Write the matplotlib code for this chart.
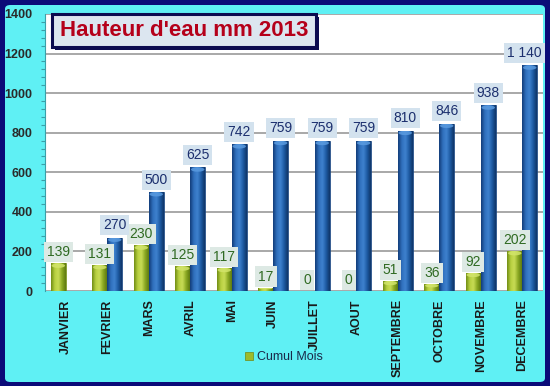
import numpy as np
import matplotlib
matplotlib.use("Agg")
import matplotlib.pyplot as plt
from matplotlib.patches import FancyBboxPatch, Rectangle, Ellipse
from matplotlib.colors import LinearSegmentedColormap

months = ["JANVIER", "FEVRIER", "MARS", "AVRIL", "MAI", "JUIN", "JUILLET",
          "AOUT", "SEPTEMBRE", "OCTOBRE", "NOVEMBRE", "DECEMBRE"]
cumul_mois = [139, 131, 230, 125, 117, 17, 0, 0, 51, 36, 92, 202]
cumul_total = [np.nan, 270, 500, 625, 742, 759, 759, 759, 810, 846, 938, 1140]
blue_labels = ["", "270", "500", "625", "742", "759", "759", "759", "810", "846", "938", "1 140"]
yticks = [0, 200, 400, 600, 800, 1000, 1200, 1400]

plt.rcParams['font.family'] = ['Liberation Sans', 'DejaVu Sans']

W, H = 550, 386
fig = plt.figure(figsize=(W / 100, H / 100), dpi=100)
fig.patch.set_facecolor('#0b0b78')
# cyan panel
fig.patches.append(FancyBboxPatch((5 / W, 4 / H), 540 / W, 377 / H,
                                  boxstyle="round,pad=0,rounding_size=0.01",
                                  transform=fig.transFigure, facecolor='#5ff0f4',
                                  edgecolor='none', zorder=-5))

ax = fig.add_axes([45 / W, 1 - 291 / H, 498 / W, 277 / H])
ax.set_zorder(1)
ax.set_facecolor('white')
x = np.arange(len(months))
w = 0.36
green = ax.bar(x - w / 2, cumul_mois, width=w, color='#9dbb2a', edgecolor='#6f8a16',
               linewidth=0.5, zorder=3, label='Cumul Mois')
blue = ax.bar(x + w / 2, cumul_total, width=w, color='#1f5fa6', edgecolor='#163f78',
              linewidth=0.5, zorder=3)

ax.set_xlim(-0.5, len(months) - 0.5)
ax.set_ylim(0, 1400)

# cylinder-like shading
grad = np.linspace(0, 1, 64).reshape(1, -1)
cm_g = LinearSegmentedColormap.from_list('g', ['#6f8c14', '#b8d040', '#c8dc55', '#8aa822', '#5e7a10'])
cm_b = LinearSegmentedColormap.from_list('b', ['#123c78', '#2f6fbc', '#3f82cf', '#1d5aa2', '#0f3467'])
caps = {'g': '#d2e46a', 'b': '#5a9be0'}
for bars, cm, cap in ((green, cm_g, caps['g']), (blue, cm_b, caps['b'])):
    for r in bars:
        hgt = r.get_height()
        if not np.isfinite(hgt) or hgt <= 0:
            continue
        x0, wd = r.get_x(), r.get_width()
        im = ax.imshow(grad, cmap=cm, aspect='auto', extent=(x0, x0 + wd, 0, hgt),
                       zorder=3.5, interpolation='bicubic')
        im.set_clip_path(r)
        ch = min(22, hgt * 0.5)
        e = Ellipse((x0 + wd / 2, hgt - ch / 2), wd * 0.9, ch, facecolor=cap,
                    edgecolor='none', alpha=0.85, zorder=3.7)
        ax.add_patch(e)
        e.set_clip_path(r)
ax.set_xlim(-0.5, len(months) - 0.5)
ax.set_ylim(0, 1400)

ax.set_yticks(yticks)
ax.set_yticklabels([str(v) for v in yticks], fontsize=9, fontweight='bold', color='#2a2a2a')
ax.set_xticks(x)
ax.set_xticklabels(months, rotation=90, fontsize=9, fontweight='bold', color='#1a1a1a')
ax.tick_params(axis='x', length=0, pad=6)
ax.tick_params(axis='y', length=0, pad=9)
ax.yaxis.set_minor_locator(matplotlib.ticker.MultipleLocator(40))
ax.tick_params(axis='y', which='minor', length=3, color='#3aa0a8', width=0.8)
ax.grid(axis='y', color='#9a9a9a', linewidth=1.2, zorder=1)
ax.set_axisbelow(True)
for s in ['top', 'right', 'bottom']:
    ax.spines[s].set_visible(False)
ax.spines['left'].set_color('#3aa0a8')
ax.spines['left'].set_linewidth(0.8)

for i, v in enumerate(cumul_mois):
    ax.annotate(str(v), (x[i] - w / 2, v), xytext=(0, 8), textcoords='offset points',
                ha='center', va='center', fontsize=10, color='#2f6a22', zorder=5,
                bbox=dict(boxstyle='square,pad=0.22', facecolor='#dde9e4', edgecolor='none'))
n = len(months)
for i, v in enumerate(cumul_total):
    if np.isnan(v):
        continue
    dx = -4 if i == n - 1 else 0  # keep last label inside the plot area
    ax.annotate(blue_labels[i], (x[i] + w / 2, v), xytext=(dx, 9), textcoords='offset points',
                ha='center', va='center', fontsize=10, color='#1c2f6e', zorder=5,
                bbox=dict(boxstyle='square,pad=0.22', facecolor='#d3e2ee', edgecolor='none'))

# title box
fig.patches.append(Rectangle((55 / W, 1 - 50 / H), 264 / W, 33 / H, transform=fig.transFigure,
                             facecolor='#0b0b50', edgecolor='none', zorder=5))
fig.patches.append(Rectangle((52 / W, 1 - 47 / H), 264 / W, 33 / H, transform=fig.transFigure,
                             facecolor='#dce6f0', edgecolor='#0b0b50', linewidth=2.2, zorder=6))
fig.text(184 / W, 1 - 30.5 / H, "Hauteur d'eau mm 2013", ha='center', va='center',
         fontsize=16, fontweight='bold', color='#b5001a', zorder=7)

fig.legend(handles=[green], labels=['Cumul Mois'], loc='center', bbox_to_anchor=(284 / W, 1 - 357 / H),
           frameon=False, fontsize=9, handlelength=0.6, handleheight=0.6, handletextpad=0.3,
           labelcolor='#1a2a4a')

fig.savefig('out.png', dpi=100, facecolor=fig.get_facecolor())
